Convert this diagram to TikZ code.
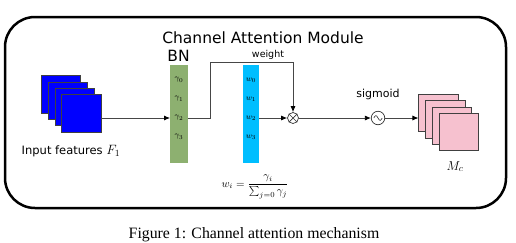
\documentclass[tikz,border=0pt]{standalone}
\usepackage{fix-cm}
\usepackage{fontspec}
\setmainfont{Liberation Serif}
\newfontfamily\dejavu{DejaVu Sans}
\usetikzlibrary{arrows.meta}
\definecolor{bngreen}{RGB}{141,176,112}
\definecolor{wcyan}{RGB}{0,190,255}
\definecolor{mapblue}{RGB}{0,0,255}
\definecolor{mappink}{RGB}{246,193,207}
\definecolor{wire}{RGB}{70,70,70}
\begin{document}
\begin{tikzpicture}[x=1pt,y=-1pt,
  frame/.style={draw=black,line width=2.5pt,rounded corners=30pt},
  sanslabel/.style={font=\dejavu\fontsize{#1}{#1}\selectfont,inner sep=0pt,anchor=base},
  bar/.style={fill=#1,draw=none,minimum width=17.5pt,minimum height=98pt,inner sep=0pt},
  barlabel/.style={font=\fontsize{8}{9}\selectfont,inner sep=0pt},
  fmap/.style={draw=black!75,line width=0.6pt,fill=#1,minimum width=39.5pt,minimum height=37.5pt,inner sep=0pt},
  conn/.style={draw=wire,line width=0.8pt},
  arr/.style={conn,-{Latex[length=6pt,width=5pt,color=black]}},
  op/.style={draw=black!80,line width=0.7pt,circle,inner sep=0pt}
]
\useasboundingbox (0,0) rectangle (516,242);

% module frame and title
\draw[frame] (5,17) rectangle (506,208);
\node[sanslabel=15.5] (title) at (263,43) {Channel Attention Module};

% input feature maps
\foreach \i in {0,...,3}
  \node[fmap=mapblue] (in\i) at (61+6.8*\i,94.5+6.2*\i) {};
\node[sanslabel=11.5] (inlabel) at (71,154) {Input features {\fontsize{13.5}{14}\selectfont$F_1$}};

% batch-norm scaling factors
\node[bar=bngreen] (bn) at (179,114) {};
\node[sanslabel=15.5] (bnlabel) at (178.5,61) {BN};
\foreach \k/\yy in {0/80,1/99,2/118,3/137}
  \node[barlabel] (g\k) at (179,\yy) {$\gamma_{\k}$};

% channel weights
\node[bar=wcyan,minimum width=16.5pt] (wb) at (251,114) {};
\foreach \k/\yy in {0/80,1/99,2/118,3/137}
  \node[barlabel] (w\k) at (251,\yy) {$w_{\k}$};
\node[inner sep=0pt,anchor=base,font=\fontsize{11}{13}\selectfont] (formula) at (255,187)
  {$\displaystyle w_i=\frac{\gamma_i}{\sum_{j=0}\gamma_j}$};

% multiplication and sigmoid
\node[op,minimum size=11pt] (mul) at (293,118) {};
\draw[black!80,line width=0.7pt] (mul.north west) -- (mul.south east)
  (mul.north east) -- (mul.south west);
\node[op,minimum size=13.5pt] (sig) at (378,118) {};
\draw[black!80,line width=0.6pt] ([xshift=-4.2pt]sig.center)
  sin ([xshift=-2.1pt,yshift=2.4pt]sig.center) cos (sig.center)
  sin ([xshift=2.1pt,yshift=-2.4pt]sig.center) cos ([xshift=4.2pt]sig.center);
\node[sanslabel=11] (siglabel) at (378,97) {sigmoid};

% output attention map
\foreach \i in {0,...,3}
  \node[fmap=mappink] (out\i) at (438.5+6.7*\i,113+6.3*\i) {};
\node[inner sep=0pt,anchor=base,font=\fontsize{13}{14}\selectfont] (mclabel) at (455,170) {$M_c$};

% connectors
\coordinate (wturn) at (210,62);
\draw[arr] (in3.east |- mul) -- (bn.west |- mul);
\draw[arr] (bn.east |- mul) -- (wturn |- mul) -- (wturn) -| (mul.north);
\node[sanslabel=9.5] (wlabel) at (268,57) {weight};
\draw[arr] (wb.east |- mul) -- (mul.west);
\draw[arr] (mul.east) -- (sig.west);
\draw[arr] (sig.east) -- (sig.east -| out0.west);

% caption
\node[inner sep=0pt,anchor=base,font=\fontsize{15.8}{18}\selectfont] (caption) at (254,238)
  {Figure 1: Channel attention mechanism};
\end{tikzpicture}
\end{document}
